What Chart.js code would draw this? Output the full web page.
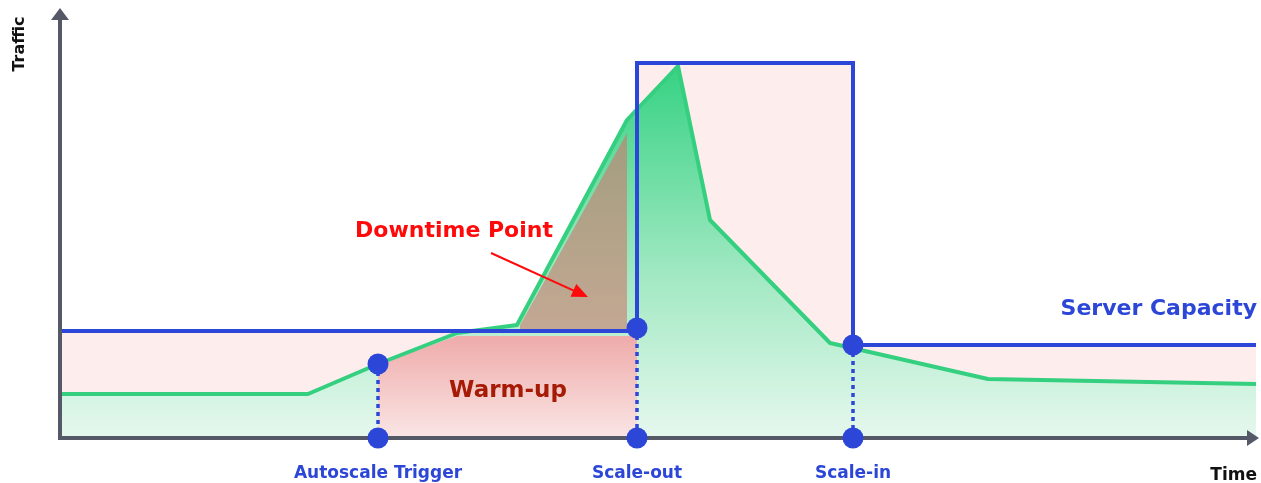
<!DOCTYPE html>
<html><head><meta charset="utf-8">
<script src="https://cdn.jsdelivr.net/npm/chart.js@4.4.1/dist/chart.umd.min.js"></script>
<style>html,body{margin:0;padding:0;background:#fff;}#wrap{width:1261px;height:483px;}</style>
</head><body><div id="wrap"><canvas id="c" width="1261" height="483"></canvas></div>
<script>
// ---- data (time units, traffic units) ----
const trafficTime   = [0, 24.8, 31.8, 39.7, 45.7, 56.7, 61.8, 65.0, 77.0, 92.8, 119.6];
const trafficValues = [8.8, 8.8, 14.8, 21.0, 22.6, 63.6, 74.4, 43.6, 19.0, 11.8, 10.8];
const capacityTime   = [0, 57.7, 57.7, 79.3, 79.3, 119.6];
const capacityValues = [21.4, 21.4, 75, 75, 18.6, 18.6];
const warmupTime   = [31.8, 39.7, 57.7];
const warmupValues = [14.8, 20.4, 20.4];
const downtimeTime   = [46.0, 56.7];
const downtimeValues = [22.6, 61.0];
const downtimeBase = 21.4;
const eventTimes  = [31.8, 57.7, 79.3];
const eventValues = [14.8, 22.0, 18.6];
const eventLabels = ['Autoscale Trigger', 'Scale-out', 'Scale-in'];
const axisLabels = {x: 'Time', y: 'Traffic'};
const annotationLabels = {capacity: 'Server Capacity', warmup: 'Warm-up', downtime: 'Downtime Point'};

const BLUE = '#2c46d8', GREEN = '#34cf7f', AXIS = '#555866';
const FONT = '"DejaVu Sans", "Open Sans", sans-serif';
const pts = (xs, ys) => xs.map((x, i) => ({x, y: ys[i]}));

function grad(chart, v0, v1, stops) {
  const ys = chart.scales.y;
  if (!ys || !chart.chartArea) return stops[stops.length - 1][1];
  const g = chart.ctx.createLinearGradient(0, ys.getPixelForValue(v0), 0, ys.getPixelForValue(v1));
  stops.forEach(s => g.addColorStop(s[0], s[1]));
  return g;
}

const base = {pointRadius: 0, tension: 0, borderJoinStyle: 'miter'};
const datasets = [
  {...base, label: 'capFill', data: pts(capacityTime, capacityValues), borderColor: 'transparent', borderWidth: 0,
   fill: 'origin', backgroundColor: '#fdeded', order: 10},
  {...base, label: 'trafficFill', data: pts(trafficTime, trafficValues), borderColor: 'transparent', borderWidth: 0,
   fill: 'origin', order: 9,
   backgroundColor: c => grad(c.chart, 74.4, 0, [[0, '#36d283'], [0.55, '#9fe8c1'], [1, '#e6f8ee']])},
  {...base, label: 'warmup', data: pts(warmupTime, warmupValues), borderColor: 'transparent', borderWidth: 0,
   fill: 'origin', order: 8,
   backgroundColor: c => grad(c.chart, 20.4, 0, [[0, '#eeabaa'], [1, '#fae6e5']])},
  {...base, label: 'downtime', data: pts(downtimeTime, downtimeValues), borderColor: 'transparent', borderWidth: 0,
   fill: {value: downtimeBase}, order: 7,
   backgroundColor: c => grad(c.chart, 61, 21.4, [[0, '#a29d7f'], [1, '#c4a893']])},
  {...base, label: 'traffic', data: pts(trafficTime, trafficValues), borderColor: GREEN, borderWidth: 4,
   fill: false, order: 6, borderJoinStyle: 'round'},
  {...base, label: 'capacity', data: pts(capacityTime, capacityValues), borderColor: BLUE, borderWidth: 4,
   fill: false, order: 5},
];
eventTimes.forEach((t, i) => datasets.push({...base, label: 'drop' + i,
  data: [{x: t, y: eventValues[i]}, {x: t, y: 0}], borderColor: BLUE, borderWidth: 3.5,
  borderDash: [4, 4], fill: false, order: 4}));
const DOTS_INDEX = datasets.length;
datasets.push({label: 'events', data: [...pts(eventTimes, eventValues), ...eventTimes.map(t => ({x: t, y: 0}))],
  showLine: false, pointRadius: 10.5, pointHoverRadius: 10.5, pointBackgroundColor: BLUE, pointBorderWidth: 0,
  borderColor: BLUE, clip: false, order: 1});

const axesPlugin = {
  id: 'axes',
  beforeDatasetDraw(chart, args) {
    if (args.index !== DOTS_INDEX) return;
    const ctx = chart.ctx, a = chart.chartArea;
    ctx.save();
    ctx.strokeStyle = AXIS; ctx.fillStyle = AXIS; ctx.lineWidth = 4; ctx.lineCap = 'butt';
    ctx.beginPath();
    ctx.moveTo(a.left, a.top + 6); ctx.lineTo(a.left, a.bottom + 2);
    ctx.moveTo(a.left - 2, a.bottom); ctx.lineTo(a.right - 6, a.bottom);
    ctx.stroke();
    ctx.beginPath();
    ctx.moveTo(a.left, a.top - 5); ctx.lineTo(a.left + 9, a.top + 7); ctx.lineTo(a.left - 9, a.top + 7); ctx.closePath();
    ctx.moveTo(a.right + 3, a.bottom); ctx.lineTo(a.right - 9, a.bottom - 8); ctx.lineTo(a.right - 9, a.bottom + 8); ctx.closePath();
    ctx.fill();
    ctx.restore();
  },
  afterDraw(chart) {
    const ctx = chart.ctx, a = chart.chartArea, xs = chart.scales.x, ys = chart.scales.y;
    ctx.save();
    ctx.textBaseline = 'alphabetic';
    // event labels
    ctx.fillStyle = BLUE; ctx.font = '700 17px ' + FONT; ctx.textAlign = 'center';
    eventTimes.forEach((t, i) => ctx.fillText(eventLabels[i], xs.getPixelForValue(t), a.bottom + 40));
    // axis titles
    ctx.fillStyle = '#111'; ctx.font = '700 17px ' + FONT; ctx.textAlign = 'right';
    ctx.fillText(axisLabels.x, a.right + 1, a.bottom + 42);
    ctx.save();
    ctx.translate(a.left - 40, a.top + 31); ctx.rotate(-Math.PI / 2);
    ctx.font = '700 16px ' + FONT; ctx.textAlign = 'center'; ctx.textBaseline = 'middle';
    ctx.fillText(axisLabels.y, 0, 0);
    ctx.restore();
    // Server capacity
    ctx.fillStyle = BLUE; ctx.font = '700 22px ' + FONT; ctx.textAlign = 'right';
    ctx.fillText(annotationLabels.capacity, a.right + 1, ys.getPixelForValue(24.6));
    // Warm-up
    ctx.fillStyle = '#a61b05'; ctx.font = '700 23px ' + FONT; ctx.textAlign = 'center';
    ctx.fillText(annotationLabels.warmup, xs.getPixelForValue(44.8), ys.getPixelForValue(8.2));
    // Downtime
    ctx.fillStyle = '#ff0a0a'; ctx.font = '700 22px ' + FONT; ctx.textAlign = 'center';
    ctx.fillText(annotationLabels.downtime, xs.getPixelForValue(39.4), ys.getPixelForValue(40.2));
    // arrow
    const x0 = xs.getPixelForValue(43.1), y0 = ys.getPixelForValue(37.0);
    const x1 = xs.getPixelForValue(52.8), y1 = ys.getPixelForValue(28.2);
    const ang = Math.atan2(y1 - y0, x1 - x0);
    ctx.strokeStyle = '#ff0a0a'; ctx.lineWidth = 2;
    ctx.beginPath(); ctx.moveTo(x0, y0);
    ctx.lineTo(x1 - 12 * Math.cos(ang), y1 - 12 * Math.sin(ang)); ctx.stroke();
    ctx.beginPath();
    ctx.moveTo(x1, y1);
    ctx.lineTo(x1 - 16 * Math.cos(ang) + 7 * Math.sin(ang), y1 - 16 * Math.sin(ang) - 7 * Math.cos(ang));
    ctx.lineTo(x1 - 16 * Math.cos(ang) - 7 * Math.sin(ang), y1 - 16 * Math.sin(ang) + 7 * Math.cos(ang));
    ctx.closePath(); ctx.fill();
    ctx.restore();
  }
};

new Chart(document.getElementById('c'), {
  type: 'line',
  data: {datasets},
  options: {
    responsive: false, animation: false, devicePixelRatio: 1,
    layout: {autoPadding: false, padding: {left: 60, right: 5, top: 13, bottom: 45}},
    plugins: {legend: {display: false}, tooltip: {enabled: false}, filler: {drawTime: 'beforeDatasetDraw'}},
    scales: {
      x: {type: 'linear', min: 0, max: 119.6, display: false},
      y: {type: 'linear', min: 0, max: 85, display: false}
    },
    events: []
  },
  plugins: [axesPlugin]
});
</script></body></html>
